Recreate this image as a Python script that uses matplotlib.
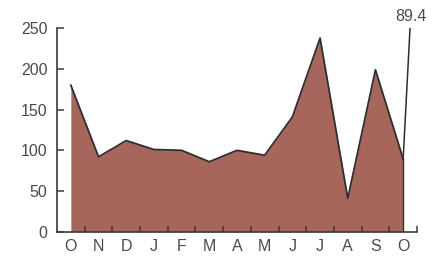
import numpy as np
import matplotlib.pyplot as plt
from matplotlib.ticker import FixedLocator

plt.rcParams['font.family'] = ['Liberation Sans', 'DejaVu Sans']

# Data: monthly values, October to October
months = ['O', 'N', 'D', 'J', 'F', 'M', 'A', 'M', 'J', 'J', 'A', 'S', 'O']
values = [180, 92, 112, 101, 100, 86, 100, 94, 141, 238, 41, 199, 89.4]
last_label = '89.4'
y_ticks = [0, 50, 100, 150, 200, 250]

fill_color = '#a6665c'
line_color = '#2e2e2e'
text_color = '#4a4a4a'

fig = plt.figure(figsize=(4.34, 2.56), dpi=100)
ax = fig.add_axes([57 / 434, 24.3 / 256, 360 / 434, 203.4 / 256])

x = np.arange(len(months))
ax.fill_between(x, values, 0, color=fill_color, linewidth=0)
ax.plot(x, values, color=line_color, linewidth=1.3)
ax.plot([x[-1], x[-1]], [0, values[-1]], color=line_color, linewidth=1.0)

ax.set_xlim(-0.5, len(months) - 0.5)
ax.set_ylim(0, 250)

for side in ['top', 'right']:
    ax.spines[side].set_visible(False)
for side in ['left', 'bottom']:
    ax.spines[side].set_color('#3a3a3a')
    ax.spines[side].set_linewidth(1.2)

ax.set_xticks(x)
ax.set_xticklabels(months)
ax.xaxis.set_minor_locator(FixedLocator(np.arange(0.5, len(months), 1.0)))
ax.tick_params(axis='x', which='major', length=0, pad=5,
               labelsize=11.5, labelcolor=text_color)
ax.tick_params(axis='x', which='minor', direction='in', length=4,
               width=1.1, color='#3a3a3a')
ax.set_yticks(y_ticks)
ax.tick_params(axis='y', direction='in', length=5, width=1.1, color='#3a3a3a',
               pad=7, labelsize=11.5, labelcolor=text_color)

# Callout for the last value
ax.annotate(last_label, xy=(x[-1], values[-1]), xytext=(x[-1] + 0.27, 255),
            textcoords='data', ha='center', va='bottom', fontsize=11.5,
            color=text_color, annotation_clip=False,
            arrowprops=dict(arrowstyle='-', color=line_color, lw=1.1,
                            shrinkA=1, shrinkB=0))

fig.savefig('out.png', dpi=100, facecolor='white')
